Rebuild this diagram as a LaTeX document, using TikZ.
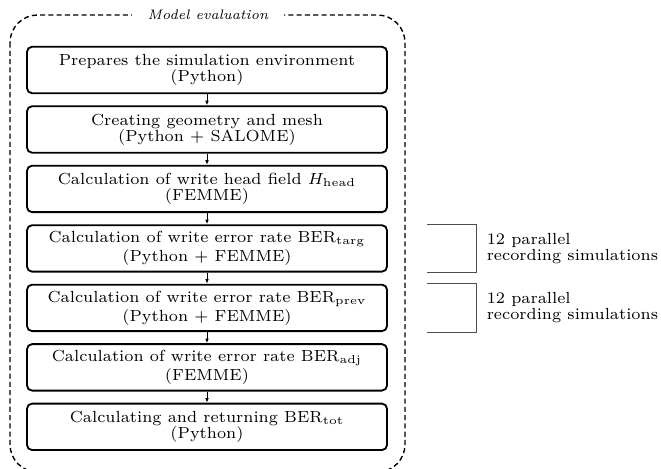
\documentclass[tikz,border=0pt]{standalone}
\usepackage{amsmath}
\usepackage{amssymb}
\usepackage{tikz}
\usepackage{xcolor}
\usetikzlibrary{positioning,arrows.meta}
\tikzset{
    process-box/.style = {draw, thick, rectangle, rounded corners=2.2pt, minimum width=156.6pt, minimum height=20.2pt, align=center, inner sep=1pt, font=\fontsize{7pt}{7pt}\selectfont},
    process-arrow/.style = {-{Latex[length=2pt,width=1.6pt]}, thin},
    group-frame/.style = {draw, line width=0.6pt, dash pattern=on 2.2pt off 1.4pt, rounded corners=12pt},
    group-title/.style = {fill=white, font=\fontsize{6pt}{7pt}\selectfont\itshape, inner xsep=7pt},
    bracket-line/.style = {draw=black!70, thin},
    bracket-label/.style = {align=left, anchor=west, inner sep=0pt, font=\fontsize{7pt}{7pt}\selectfont},
}
\begin{document}
\begin{tikzpicture}[x=0.435pt, y=-0.435pt, node distance=4.87pt]
\useasboundingbox (0,0) rectangle (661,468);
\draw[group-frame] (10,15) rectangle (405,472);
\node[group-title] (title) at (208,15) {Model evaluation};
\node[process-box] (prep) at (207,70) {Prepares the simulation environment\\(Python)};
\node[process-box, below=of prep] (mesh) {Creating geometry and mesh\\(Python + SALOME)};
\node[process-box, below=of mesh] (head) {Calculation of write head field $H_{\text{head}}$\\(FEMME)};
\node[process-box, below=of head] (targ) {Calculation of write error rate $\mathrm{BER}_{\text{targ}}$\\(Python + FEMME)};
\node[process-box, below=of targ] (prev) {Calculation of write error rate $\mathrm{BER}_{\text{prev}}$\\(Python + FEMME)};
\node[process-box, below=of prev] (adj) {Calculation of write error rate $\mathrm{BER}_{\text{adj}}$\\(FEMME)};
\node[process-box, below=of adj] (tot) {Calculating and returning $\mathrm{BER}_{\text{tot}}$\\(Python)};
\foreach \from/\to in {prep/mesh, mesh/head, head/targ, targ/prev, prev/adj, adj/tot}
    \draw[process-arrow] (\from) -- (\to);
% brackets for the parallel runs
\foreach \step in {targ, prev} {
    \coordinate (\step-a) at ([xshift=17pt]\step.north east);
    \coordinate (\step-b) at ([xshift=38.3pt]\step.north east);
    \coordinate (\step-c) at ([xshift=38.3pt]\step.south east);
    \coordinate (\step-d) at ([xshift=17pt]\step.south east);
    \draw[bracket-line] (\step-a) -- (\step-b) -- (\step-c) -- (\step-d);
    \node[bracket-label] (\step-note) at ([xshift=42.8pt]\step.east) {12 parallel\\recording simulations};
}
\end{tikzpicture}
\end{document}
